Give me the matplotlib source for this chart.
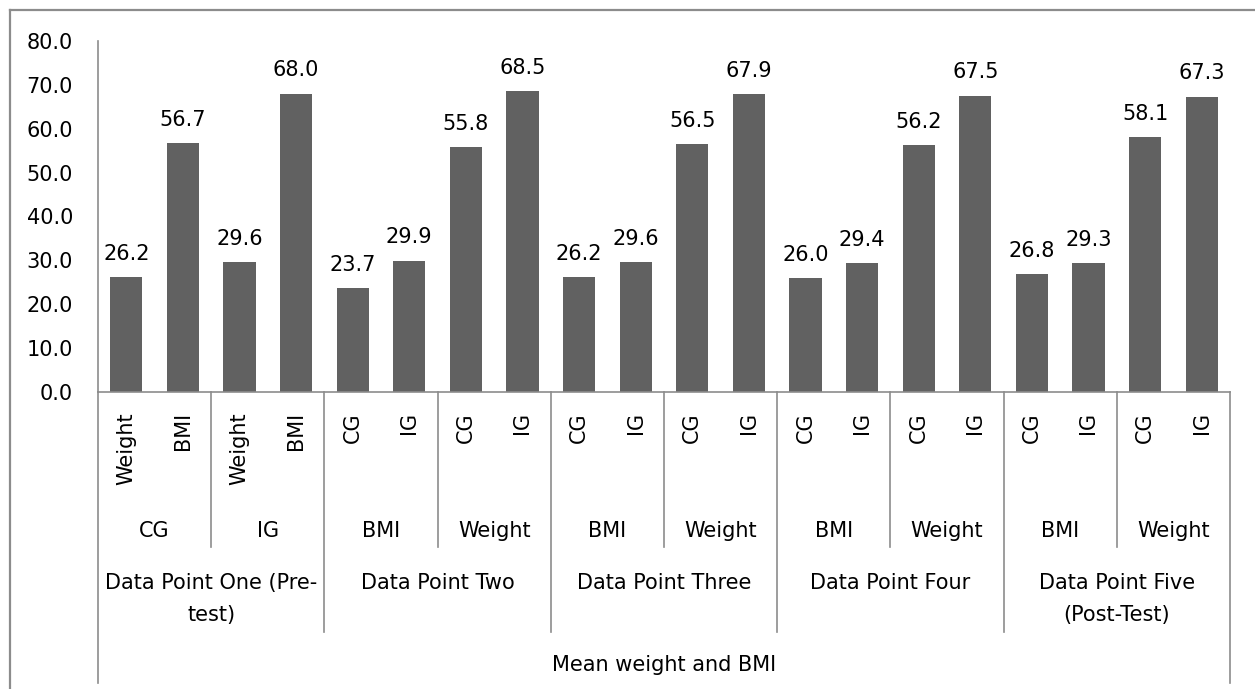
import matplotlib.pyplot as plt
from matplotlib.lines import Line2D
from matplotlib.ticker import FormatStrFormatter

# chart values
VALUES = [26.2, 56.7, 29.6, 68.0,
          23.7, 29.9, 55.8, 68.5,
          26.2, 29.6, 56.5, 67.9,
          26.0, 29.4, 56.2, 67.5,
          26.8, 29.3, 58.1, 67.3]
LEVEL1 = ['Weight', 'BMI', 'Weight', 'BMI'] + ['CG', 'IG'] * 8
LEVEL2 = ['CG', 'IG'] + ['BMI', 'Weight'] * 4
LEVEL3 = ['Data Point One (Pre-\ntest)', 'Data Point Two', 'Data Point Three',
          'Data Point Four', 'Data Point Five\n(Post-Test)']
LEVEL4 = 'Mean weight and BMI'
YTICKS = [0, 10, 20, 30, 40, 50, 60, 70, 80]

W, H, DPI = 1255, 689, 100
BAR_COLOR = '#616161'
LINE_COLOR = '#8c8c8c'
FS = 15

plt.rcParams['font.family'] = ['DejaVu Sans']

fig = plt.figure(figsize=(W / DPI, H / DPI), dpi=DPI)

# plot area in pixels: left 98, right 1230, top 41, bottom 392
X0, X1, Y0, Y1 = 98, 1230, 41, 392
ax = fig.add_axes([X0 / W, (H - Y1) / H, (X1 - X0) / W, (Y1 - Y0) / H])

n = len(VALUES)
xs = list(range(n))
ax.bar(xs, VALUES, width=0.57, color=BAR_COLOR, zorder=2)
ax.set_xlim(-0.5, n - 0.5)
ax.set_ylim(0, 80)
ax.set_yticks(YTICKS)
ax.yaxis.set_major_formatter(FormatStrFormatter('%.1f'))
ax.tick_params(axis='y', length=0, pad=18, labelsize=FS)
ax.set_xticks([])
for s in ['top', 'right']:
    ax.spines[s].set_visible(False)
for s in ['left', 'bottom']:
    ax.spines[s].set_color(LINE_COLOR)
    ax.spines[s].set_linewidth(1.2)

# data labels
for x, v in zip(xs, VALUES):
    ax.annotate(f'{v:.1f}', (x, v), xytext=(0, 12.5), textcoords='offset points',
                ha='center', va='baseline', fontsize=FS)

# multi level category axis
def fy(p):
    # pixel row -> axes fraction
    return (Y1 - p) / (Y1 - Y0)

tr = ax.get_xaxis_transform()

def vline(x, p_end):
    ax.add_line(Line2D([x, x], [fy(Y1), fy(p_end)], transform=tr,
                       color=LINE_COLOR, lw=1.2, clip_on=False))

for i in range(1, len(LEVEL2)):
    if i % 2:
        vline(2 * i - 0.5, 547)
for i in range(1, len(LEVEL3)):
    vline(4 * i - 0.5, 632)
vline(-0.5, 683)
vline(n - 0.5, 683)

for x, lab in zip(xs, LEVEL1):
    ax.text(x, fy(412), lab, transform=tr, rotation=90, ha='center', va='top',
            fontsize=FS)
for i, lab in enumerate(LEVEL2):
    ax.text(2 * i + 0.5, fy(531), lab, transform=tr, ha='center', va='center',
            fontsize=FS)
for i, lab in enumerate(LEVEL3):
    ax.text(4 * i + 1.5, fy(573), lab, transform=tr, ha='center', va='top',
            fontsize=FS, linespacing=1.75)
ax.text((n - 1) / 2, fy(665), LEVEL4, transform=tr, ha='center', va='center',
        fontsize=FS)

# chart border (right and bottom edges fall outside the picture)
fig.add_artist(Line2D([9.5 / W, 9.5 / W], [0, (H - 10) / H], color=LINE_COLOR,
                      lw=1.6, transform=fig.transFigure))
fig.add_artist(Line2D([9.5 / W, 1], [(H - 10) / H, (H - 10) / H], color=LINE_COLOR,
                      lw=1.6, transform=fig.transFigure))

fig.savefig('out.png', dpi=DPI)
